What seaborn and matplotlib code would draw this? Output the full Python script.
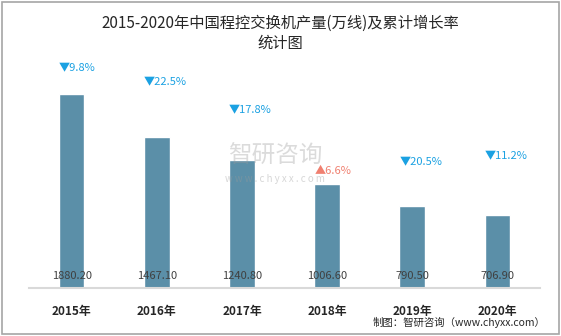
import matplotlib
matplotlib.use("Agg")
import matplotlib.pyplot as plt
import seaborn as sns
import pandas as pd
from matplotlib.patches import Rectangle

years = ["2015年", "2016年", "2017年", "2018年", "2019年", "2020年"]
output = [1880.20, 1467.10, 1240.80, 1006.60, 790.50, 706.90]
rates = ["▼9.8%", "▼22.5%", "▼17.8%", "▲6.6%", "▼20.5%", "▼11.2%"]
rate_up = [False, False, False, True, False, False]
rate_label_y = [2130, 1990, 1720, 1130, 1220, 1280]

sns.set_theme(style="white")
plt.rcParams['font.family'] = ['Noto Sans CJK SC', 'DejaVu Sans']

df = pd.DataFrame({"year": years, "output": output})

fig = plt.figure(figsize=(5.61, 3.36), dpi=100)
ax = fig.add_axes([29/561, 48/336, 511/561, 238/336])
sns.barplot(data=df, x="year", y="output", color="#5B8FA8", saturation=1,
            width=0.3, ax=ax)
ax.set_ylim(0, 2306)
ax.set_xlim(-0.5, 5.5)
for s in ["top", "right", "left"]:
    ax.spines[s].set_visible(False)
ax.spines["bottom"].set_color("#D9D9D9")
ax.spines["bottom"].set_linewidth(1.5)
ax.set_yticks([])
ax.set_xlabel("")
ax.set_ylabel("")
ax.tick_params(axis="x", length=0, pad=12)
for lab in ax.get_xticklabels():
    lab.set_fontweight("bold")
    lab.set_fontsize(8.5)
    lab.set_color("#262626")

for i, v in enumerate(output):
    ax.text(i, 70, f"{v:.2f}", ha="center", va="bottom", fontsize=8, color="#404040")

for i, (r, up, y) in enumerate(zip(rates, rate_up, rate_label_y)):
    ax.text(i - 0.15, y, r, ha="left", va="center", fontsize=8,
            color="#F08070" if up else "#1BA1E2")

# watermark
fig.text(0.49, 0.535, "智研咨询", fontsize=17, color="#9A9A9A", alpha=0.35,
         ha="center", va="center")
fig.text(0.49, 0.468, "w w w . c h y x x . c o m", fontsize=7, color="#9A9A9A",
         alpha=0.4, ha="center", va="center")

fig.text(0.5, 0.93, "2015-2020年中国程控交换机产量(万线)及累计增长率",
         ha="center", va="center", fontsize=11, color="#262626")
fig.text(0.5, 0.87, "统计图", ha="center", va="center", fontsize=11, color="#262626")
fig.text(0.972, 0.025, "制图：智研咨询（www.chyxx.com）", ha="right", va="bottom",
         fontsize=7.5, color="#262626")

fig.patches.append(Rectangle((0.004, 0.006), 0.992, 0.988, transform=fig.transFigure,
                             fill=False, edgecolor="#A6A6A6", linewidth=1.2))

fig.savefig("out.png", dpi=100)
